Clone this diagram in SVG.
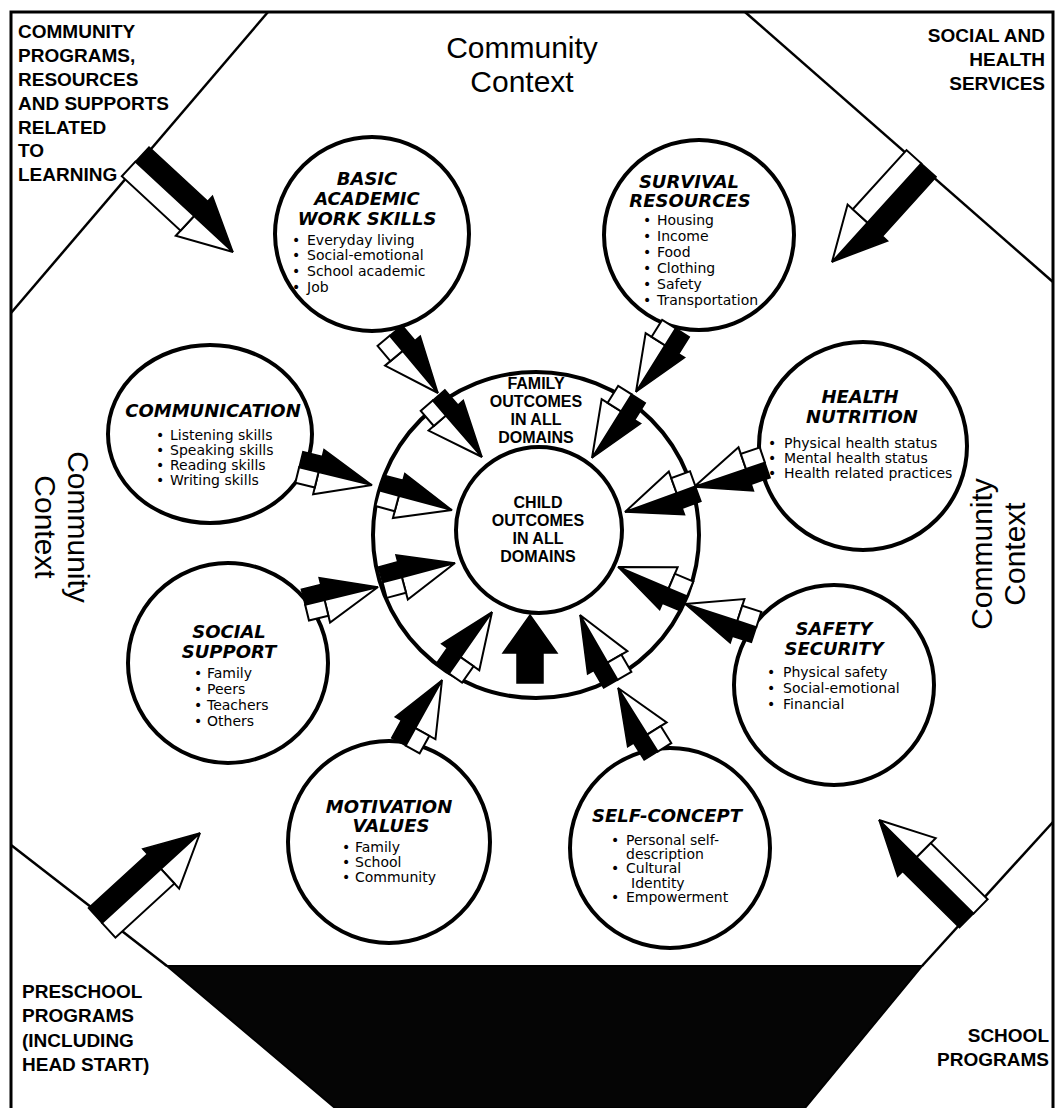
<svg xmlns="http://www.w3.org/2000/svg" xmlns:xlink="http://www.w3.org/1999/xlink" width="1064" height="1108" viewBox="0 0 1064 1108">
<style>
.frame{fill:none;stroke:#000;stroke-width:3}
.oct{fill:none;stroke:#000;stroke-width:2.5}
.dark{fill:#050505;stroke:#000;stroke-width:2}
.node{fill:#fff;stroke:#000;stroke-width:4}
.ttl{font-family:"DejaVu Sans","Liberation Sans",sans-serif;font-weight:bold;font-style:italic;font-size:18px;text-anchor:middle;fill:#000}
.li{font-family:"DejaVu Sans","Liberation Sans",sans-serif;font-size:14px;fill:#000}
.corner{font-family:"Liberation Sans",Arial,sans-serif;font-weight:bold;font-size:19px;fill:#000}
.ctx{font-family:"Liberation Sans",Arial,sans-serif;font-size:30px;text-anchor:middle;fill:#000}
.ctr{font-family:"Liberation Sans",Arial,sans-serif;font-weight:bold;font-size:16px;text-anchor:middle;fill:#000}
.blk{fill:#000;stroke:#000;stroke-width:1.5;stroke-linejoin:miter}
.wht{fill:#fff;stroke:#000;stroke-width:2;stroke-linejoin:miter}
</style>
<defs>
<g id="sa">
<path class="blk" d="M0,0L-55,-23L-55,-16L-75,-16L-75,0Z"/>
<path class="wht" d="M0,0L-55,23L-55,0Z"/>
<rect class="wht" x="-75" y="0" width="20" height="16"/>
</g>
<g id="ba">
<path class="blk" d="M0,0L-53,-27L-53,-20L-133,-20L-133,0Z"/>
<path class="wht" d="M0,0L-53,27L-53,0Z"/>
<rect class="wht" x="-133" y="0" width="80" height="20"/>
</g>
</defs>
<rect width="1064" height="1108" fill="#fff"/>

<g id="frame">
<path class="frame" d="M11,1108V12H1053V1108"/>
<line class="oct" x1="268" y1="12" x2="11" y2="313"/>
<line class="oct" x1="745" y1="12" x2="1053" y2="282"/>
<line class="oct" x1="11" y1="845" x2="167" y2="966"/>
<line class="oct" x1="1053" y1="822" x2="922" y2="966"/>
<polygon class="dark" points="167,966 922,966 805,1108 335,1108"/>
</g>

<g id="context-labels">
<text class="ctx" x="522" y="58">Community</text>
<text class="ctx" x="522" y="92">Context</text>
<g transform="translate(68,527) rotate(90)">
<text class="ctx" x="0" y="0">Community</text>
<text class="ctx" x="0" y="33">Context</text>
</g>
<g transform="translate(992,554) rotate(-90)">
<text class="ctx" x="0" y="0">Community</text>
<text class="ctx" x="0" y="33">Context</text>
</g>
</g>

<g id="corner-community-programs">
<text class="corner" x="18" y="38">COMMUNITY</text>
<text class="corner" x="18" y="62">PROGRAMS,</text>
<text class="corner" x="18" y="86">RESOURCES</text>
<text class="corner" x="18" y="110">AND SUPPORTS</text>
<text class="corner" x="18" y="134">RELATED</text>
<text class="corner" x="18" y="157">TO</text>
<text class="corner" x="18" y="181">LEARNING</text>
</g>
<g id="corner-social-health">
<text class="corner" x="1045" y="42" text-anchor="end">SOCIAL AND</text>
<text class="corner" x="1045" y="66" text-anchor="end">HEALTH</text>
<text class="corner" x="1045" y="90" text-anchor="end">SERVICES</text>
</g>
<g id="corner-preschool">
<text class="corner" x="22" y="998">PRESCHOOL</text>
<text class="corner" x="22" y="1022">PROGRAMS</text>
<text class="corner" x="22" y="1047">(INCLUDING</text>
<text class="corner" x="22" y="1071">HEAD START)</text>
</g>
<g id="corner-school">
<text class="corner" x="1049" y="1042" text-anchor="end">SCHOOL</text>
<text class="corner" x="1049" y="1066" text-anchor="end">PROGRAMS</text>
</g>

<g id="node-family">
<circle class="node" cx="536" cy="535" r="163"/>
<text class="ctr" x="536" y="389">FAMILY</text>
<text class="ctr" x="536" y="407">OUTCOMES</text>
<text class="ctr" x="536" y="425">IN ALL</text>
<text class="ctr" x="536" y="443">DOMAINS</text>
</g>
<g id="node-child">
<circle class="node" cx="539" cy="530" r="83"/>
<text class="ctr" x="538" y="508">CHILD</text>
<text class="ctr" x="538" y="526">OUTCOMES</text>
<text class="ctr" x="538" y="544">IN ALL</text>
<text class="ctr" x="538" y="562">DOMAINS</text>
</g>

<g id="node-basic-academic">
<circle class="node" cx="372" cy="234" r="97"/>
<text class="ttl" x="367" y="185">BASIC</text>
<text class="ttl" x="367" y="205">ACADEMIC</text>
<text class="ttl" x="367" y="225">WORK SKILLS</text>
<text class="li" x="292" y="245">•</text><text class="li" x="307" y="245">Everyday living</text>
<text class="li" x="292" y="260">•</text><text class="li" x="307" y="260">Social-emotional</text>
<text class="li" x="292" y="276">•</text><text class="li" x="307" y="276">School academic</text>
<text class="li" x="292" y="292">•</text><text class="li" x="307" y="292">Job</text>
</g>

<g id="node-survival">
<circle class="node" cx="699" cy="235" r="95"/>
<text class="ttl" x="689" y="188">SURVIVAL</text>
<text class="ttl" x="690" y="207">RESOURCES</text>
<text class="li" x="643" y="225">•</text><text class="li" x="657" y="225">Housing</text>
<text class="li" x="643" y="241">•</text><text class="li" x="657" y="241">Income</text>
<text class="li" x="643" y="257">•</text><text class="li" x="657" y="257">Food</text>
<text class="li" x="643" y="273">•</text><text class="li" x="657" y="273">Clothing</text>
<text class="li" x="643" y="289">•</text><text class="li" x="657" y="289">Safety</text>
<text class="li" x="643" y="305">•</text><text class="li" x="657" y="305">Transportation</text>
</g>

<g id="node-communication">
<ellipse class="node" cx="210" cy="434" rx="102" ry="89"/>
<text class="ttl" x="213" y="417">COMMUNICATION</text>
<text class="li" x="156" y="440">•</text><text class="li" x="170" y="440">Listening skills</text>
<text class="li" x="156" y="455">•</text><text class="li" x="170" y="455">Speaking skills</text>
<text class="li" x="156" y="470">•</text><text class="li" x="170" y="470">Reading skills</text>
<text class="li" x="156" y="485">•</text><text class="li" x="170" y="485">Writing skills</text>
</g>

<g id="node-health">
<circle class="node" cx="863" cy="446" r="104"/>
<text class="ttl" x="860" y="403">HEALTH</text>
<text class="ttl" x="862" y="423">NUTRITION</text>
<text class="li" x="768" y="448">•</text><text class="li" x="784" y="448">Physical health status</text>
<text class="li" x="768" y="463">•</text><text class="li" x="784" y="463">Mental health status</text>
<text class="li" x="768" y="478">•</text><text class="li" x="784" y="478">Health related practices</text>
</g>

<g id="node-social-support">
<circle class="node" cx="228" cy="663" r="100"/>
<text class="ttl" x="229" y="638">SOCIAL</text>
<text class="ttl" x="229" y="658">SUPPORT</text>
<text class="li" x="194" y="678">•</text><text class="li" x="207" y="678">Family</text>
<text class="li" x="194" y="694">•</text><text class="li" x="207" y="694">Peers</text>
<text class="li" x="194" y="710">•</text><text class="li" x="207" y="710">Teachers</text>
<text class="li" x="194" y="726">•</text><text class="li" x="207" y="726">Others</text>
</g>

<g id="node-safety">
<circle class="node" cx="834" cy="685" r="100"/>
<text class="ttl" x="834" y="635">SAFETY</text>
<text class="ttl" x="834" y="655">SECURITY</text>
<text class="li" x="767" y="677">•</text><text class="li" x="783" y="677">Physical safety</text>
<text class="li" x="767" y="693">•</text><text class="li" x="783" y="693">Social-emotional</text>
<text class="li" x="767" y="709">•</text><text class="li" x="783" y="709">Financial</text>
</g>

<g id="node-motivation">
<circle class="node" cx="389" cy="842" r="101"/>
<text class="ttl" x="389" y="813">MOTIVATION</text>
<text class="ttl" x="391" y="832">VALUES</text>
<text class="li" x="342" y="852">•</text><text class="li" x="355" y="852">Family</text>
<text class="li" x="342" y="867">•</text><text class="li" x="355" y="867">School</text>
<text class="li" x="342" y="882">•</text><text class="li" x="355" y="882">Community</text>
</g>

<g id="node-self-concept">
<circle class="node" cx="670" cy="848" r="100"/>
<text class="ttl" x="667" y="822">SELF-CONCEPT</text>
<text class="li" x="611" y="845">•</text><text class="li" x="626" y="845">Personal self-</text>
<text class="li" x="626" y="859">description</text>
<text class="li" x="611" y="873">•</text><text class="li" x="626" y="873">Cultural</text>
<text class="li" x="631" y="888">Identity</text>
<text class="li" x="611" y="902">•</text><text class="li" x="626" y="902">Empowerment</text>
</g>

<g id="connectors">
<use xlink:href="#ba" href="#ba" transform="translate(233,252) rotate(42.8)"/>
<use xlink:href="#ba" href="#ba" transform="translate(832,262) rotate(132.2)"/>
<use xlink:href="#ba" href="#ba" transform="translate(200,833) rotate(-42.5)"/>
<use xlink:href="#ba" href="#ba" transform="translate(879,820) rotate(-135.3)"/>

<use xlink:href="#sa" href="#sa" transform="translate(438,393) rotate(50)"/>
<use xlink:href="#sa" href="#sa" transform="translate(636,392) rotate(122)"/>
<use xlink:href="#sa" href="#sa" transform="translate(372,485) rotate(13.7)"/>
<use xlink:href="#sa" href="#sa" transform="translate(694,487) rotate(161)"/>
<use xlink:href="#sa" href="#sa" transform="translate(378,587) rotate(-13.8)"/>
<use xlink:href="#sa" href="#sa" transform="translate(685,604) rotate(198)"/>
<use xlink:href="#sa" href="#sa" transform="translate(442,680) rotate(-61)"/>
<use xlink:href="#sa" href="#sa" transform="translate(618,688) rotate(-122)"/>

<use xlink:href="#sa" href="#sa" transform="translate(482,457) rotate(49)"/>
<use xlink:href="#sa" href="#sa" transform="translate(592,458) rotate(122)"/>
<use xlink:href="#sa" href="#sa" transform="translate(452,510) rotate(15)"/>
<use xlink:href="#sa" href="#sa" transform="translate(455,563) rotate(-15)"/>
<use xlink:href="#sa" href="#sa" transform="translate(625,512) rotate(160)"/>
<use xlink:href="#sa" href="#sa" transform="translate(618,567) rotate(203)"/>
<use xlink:href="#sa" href="#sa" transform="translate(492,612) rotate(-55)"/>
<use xlink:href="#sa" href="#sa" transform="translate(580,615) rotate(-120)"/>
<polygon class="blk" points="530,615 557,653 543,653 543,683 517,683 517,653 503,653"/>
</g>
</svg>
